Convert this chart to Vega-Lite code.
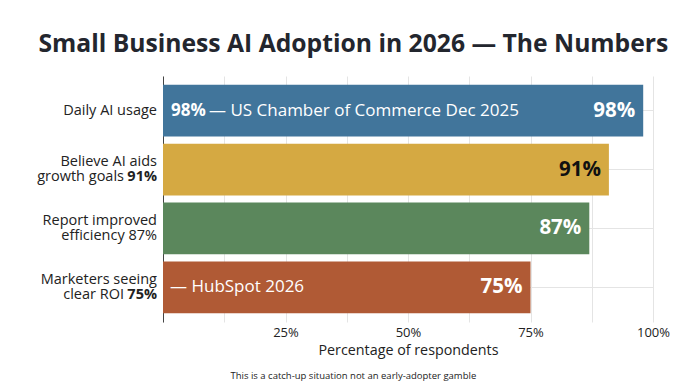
{
  "$schema": "https://vega.github.io/schema/vega-lite/v6.json",
  "background": "#ffffff",
  "padding": {"left": 37, "top": 32, "right": 28, "bottom": 8},
  "config": {
    "font": "Open Sans",
    "view": {"stroke": null},
    "title": {"color": "#23262e"}
  },
  "title": {
    "text": "Small Business AI Adoption in 2026 — The Numbers",
    "fontSize": 24.7,
    "fontWeight": "bold",
    "anchor": "middle",
    "frame": "bounds",
    "offset": 19
  },
  "datasets": {
    "rows": [
      {"cat": "Daily AI usage", "l1": "", "l2": "", "single": "Daily AI usage", "bold": "", "value": 98, "valText": "98%", "srcBold": "98%", "src": "— US Chamber of Commerce Dec 2025", "srcOnly": ""},
      {"cat": "Believe AI aids growth goals", "l1": "Believe AI aids", "l2": "growth goals", "single": "", "bold": "91%", "value": 91, "valText": "91%", "srcBold": "", "src": "", "srcOnly": ""},
      {"cat": "Report improved efficiency", "l1": "Report improved", "l2": "efficiency 87%", "single": "", "bold": "", "value": 87, "valText": "87%", "srcBold": "", "src": "", "srcOnly": ""},
      {"cat": "Marketers seeing clear ROI", "l1": "Marketers seeing", "l2": "clear ROI", "single": "", "bold": "75%", "value": 75, "valText": "75%", "srcBold": "", "src": "", "srcOnly": "— HubSpot 2026"}
    ]
  },
  "vconcat": [
    {
      "width": 490,
      "height": 246,
      "title": {
        "text": "This is a catch-up situation not an early-adopter gamble",
        "orient": "bottom",
        "fontSize": 9.5,
        "fontWeight": "normal",
        "color": "#222222",
        "anchor": "middle",
        "frame": "bounds",
        "offset": 14
      },
      "data": {"name": "rows"},
      "encoding": {
        "y": {
          "field": "cat",
          "type": "nominal",
          "sort": null,
          "scale": {"paddingInner": 0.12, "paddingOuter": 0.15},
          "axis": {
            "title": null,
            "labels": false,
            "ticks": false,
            "domain": true,
            "domainColor": "#444444",
            "grid": true,
            "gridColor": "#e4e4e4",
            "bandPosition": 0.5
          }
        }
      },
      "layer": [
        {
          "mark": {"type": "bar"},
          "encoding": {
            "x": {
              "field": "value",
              "type": "quantitative",
              "scale": {"domain": [0, 100], "nice": false},
              "axis": {
                "title": "Percentage of respondents",
                "titleFontSize": 14.3,
                "titleFontWeight": "normal",
                "titleColor": "#222222",
                "titlePadding": 4,
                "values": [0, 12.5, 25, 37.5, 50, 62.5, 75, 87.5, 100],
                "labelExpr": "datum.value > 0 && datum.value % 25 == 0 ? datum.value + '%' : ''",
                "labelFontSize": 13,
                "labelColor": "#222222",
                "labelPadding": 4,
                "labelFlush": false,
                "ticks": false,
                "domain": false,
                "grid": true,
                "gridColor": "#e4e4e4"
              }
            },
            "color": {
              "field": "cat",
              "type": "nominal",
              "sort": null,
              "scale": {"range": ["#41759b", "#d5a942", "#5b875c", "#b05a35"]},
              "legend": null
            }
          }
        },
        {
          "mark": {"type": "text", "align": "right", "baseline": "middle", "dx": -8, "fontSize": 20.5, "fontWeight": "bold"},
          "encoding": {
            "x": {"field": "value", "type": "quantitative"},
            "text": {"field": "valText"},
            "color": {
              "condition": {"test": "datum.value == 91", "value": "#111111"},
              "value": "#ffffff"
            }
          }
        },
        {
          "transform": [{"filter": "datum.srcBold != ''"}],
          "mark": {"type": "text", "align": "left", "baseline": "middle", "dx": 8, "fontSize": 17, "fontWeight": "bold", "color": "#ffffff"},
          "encoding": {
            "x": {"datum": 0, "type": "quantitative"},
            "text": {"field": "srcBold"}
          }
        },
        {
          "transform": [{"filter": "datum.src != ''"}],
          "mark": {"type": "text", "align": "left", "baseline": "middle", "dx": 46, "fontSize": 17, "color": "#ffffff"},
          "encoding": {
            "x": {"datum": 0, "type": "quantitative"},
            "text": {"field": "src"}
          }
        },
        {
          "transform": [{"filter": "datum.srcOnly != ''"}],
          "mark": {"type": "text", "align": "left", "baseline": "middle", "dx": 7, "fontSize": 17, "color": "#ffffff"},
          "encoding": {
            "x": {"datum": 0, "type": "quantitative"},
            "text": {"field": "srcOnly"}
          }
        },
        {
          "transform": [{"filter": "datum.single != ''"}],
          "mark": {"type": "text", "align": "right", "baseline": "middle", "dx": -6, "fontSize": 14.5, "color": "#222222"},
          "encoding": {
            "x": {"datum": 0, "type": "quantitative"},
            "text": {"field": "single"}
          }
        },
        {
          "transform": [{"filter": "datum.l1 != ''"}],
          "mark": {"type": "text", "align": "right", "baseline": "middle", "dx": -6, "dy": -7.5, "fontSize": 14.5, "color": "#222222"},
          "encoding": {
            "x": {"datum": 0, "type": "quantitative"},
            "text": {"field": "l1"}
          }
        },
        {
          "transform": [{"filter": "datum.l2 != '' && datum.bold == ''"}],
          "mark": {"type": "text", "align": "right", "baseline": "middle", "dx": -6, "dy": 7.5, "fontSize": 14.5, "color": "#222222"},
          "encoding": {
            "x": {"datum": 0, "type": "quantitative"},
            "text": {"field": "l2"}
          }
        },
        {
          "transform": [{"filter": "datum.bold != ''"}],
          "mark": {"type": "text", "align": "right", "baseline": "middle", "dx": -39, "dy": 7.5, "fontSize": 14.5, "color": "#222222"},
          "encoding": {
            "x": {"datum": 0, "type": "quantitative"},
            "text": {"field": "l2"}
          }
        },
        {
          "transform": [{"filter": "datum.bold != ''"}],
          "mark": {"type": "text", "align": "right", "baseline": "middle", "dx": -6, "dy": 7.5, "fontSize": 14.5, "fontWeight": "bold", "color": "#222222"},
          "encoding": {
            "x": {"datum": 0, "type": "quantitative"},
            "text": {"field": "bold"}
          }
        }
      ]
    }
  ]
}
